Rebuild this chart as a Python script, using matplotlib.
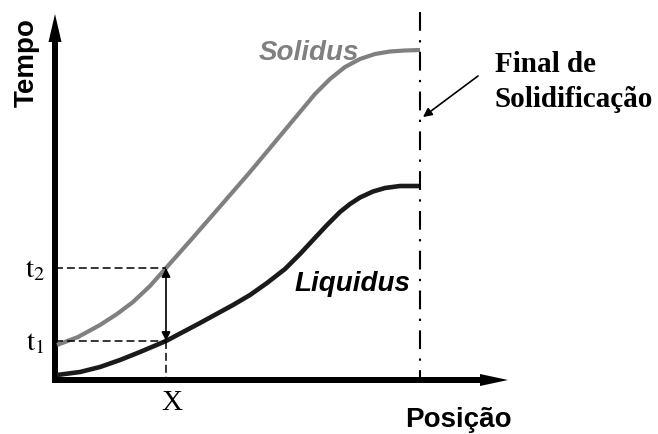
import matplotlib
matplotlib.use('Agg')
import matplotlib.pyplot as plt

plt.rcParams['mathtext.fontset'] = 'stix'

# schematic units (origin at the axes corner)
sol_x = [2, 23, 45, 62, 78, 95, 111, 135, 162, 195, 225, 245, 260, 275,
         290, 305, 320, 335, 350, 365]
sol_y = [35, 43, 55, 66, 78, 94, 112, 139, 170, 208, 244, 268, 286, 301,
         313, 321, 326, 328.5, 329.5, 330]
liq_x = [2, 25, 45, 65, 85, 111, 145, 178, 195, 212, 230, 245, 258, 272,
         285, 295, 305, 318, 330, 345, 364]
liq_y = [5, 8, 13, 20, 28, 39, 57, 75, 85, 97, 111, 126, 140, 155,
         168, 176, 182.5, 188.5, 192, 194, 194]

x_pos = 111          # position X
t1, t2 = 39, 112     # times at X
x_end = 365          # final de solidificacao
x_max, y_max = 453, 366

fig = plt.figure(figsize=(6.58, 4.35), dpi=100)
ax = fig.add_axes([0, 0, 1, 1])
ax.set_xlim(-55, 603)
ax.set_ylim(-54, 381)
ax.axis('off')

# axes with arrows
ax.arrow(0, -3, 0, y_max + 3, width=6, head_width=13, head_length=28,
         length_includes_head=True, color='k', lw=0)
ax.arrow(-3, 0, x_max + 3, 0, width=6, head_width=12, head_length=28,
         length_includes_head=True, color='k', lw=0)

# curves
ax.plot(sol_x, sol_y, color='#808080', lw=3.0, solid_capstyle='butt',
        solid_joinstyle='round')
ax.plot(liq_x, liq_y, color='#1a1a1a', lw=3.3, solid_capstyle='butt',
        solid_joinstyle='round')

# final de solidificacao
ax.plot([x_end, x_end], [y_max + 2, 0], color='k', lw=1.5,
        linestyle=(0, (9, 4.5, 1.1, 4.5)))

# guide lines
ax.plot([0, x_pos], [t2, t2], color='k', lw=1.1, linestyle=(0, (5.2, 2.6)))
ax.plot([0, x_pos], [t1, t1], color='k', lw=1.1, linestyle=(0, (5.2, 2.6)))
ax.plot([x_pos, x_pos], [t1, 0], color='k', lw=1.1, linestyle=(0, (5.2, 2.6)))
ax.annotate('', xy=(x_pos, t2), xytext=(x_pos, t1),
            arrowprops=dict(arrowstyle='<|-|>', color='k', lw=1.2,
                            mutation_scale=13, shrinkA=0, shrinkB=0))

# labels
ax.text(-28, 318, 'Tempo', rotation=90, ha='center', va='center',
        fontsize=20, fontweight='bold', family='Liberation Sans')
ax.text(403, -46, 'Posição', ha='center', va='baseline',
        fontsize=20, fontweight='bold', family='Liberation Sans')
ax.text(254, 321, 'Solidus', ha='center', va='baseline', color='#808080',
        fontsize=20, fontweight='bold', style='italic', family='Liberation Sans')
ax.text(297, 90, 'Liquidus', ha='center', va='baseline', color='k',
        fontsize=20, fontweight='bold', style='italic', family='Liberation Sans')
ax.text(-10, t2, r'$\mathrm{t}_2$', ha='right', va='center', fontsize=21)
ax.text(-10, t1, r'$\mathrm{t}_1$', ha='right', va='center', fontsize=21)
ax.text(117, -22, 'X', ha='center', va='center', fontsize=21,
        family='Liberation Serif')
ax.text(440, 309, 'Final de', ha='left', va='baseline', fontsize=21,
        fontweight='bold', family='Liberation Serif')
ax.text(440, 274, 'Solidificação', ha='left', va='baseline', fontsize=21,
        fontweight='bold', family='Liberation Serif')
ax.annotate('', xy=(368, 263), xytext=(423, 304),
            arrowprops=dict(arrowstyle='-|>', color='k', lw=1.2,
                            mutation_scale=13, shrinkA=0, shrinkB=0))

fig.savefig('out.png', dpi=100)
